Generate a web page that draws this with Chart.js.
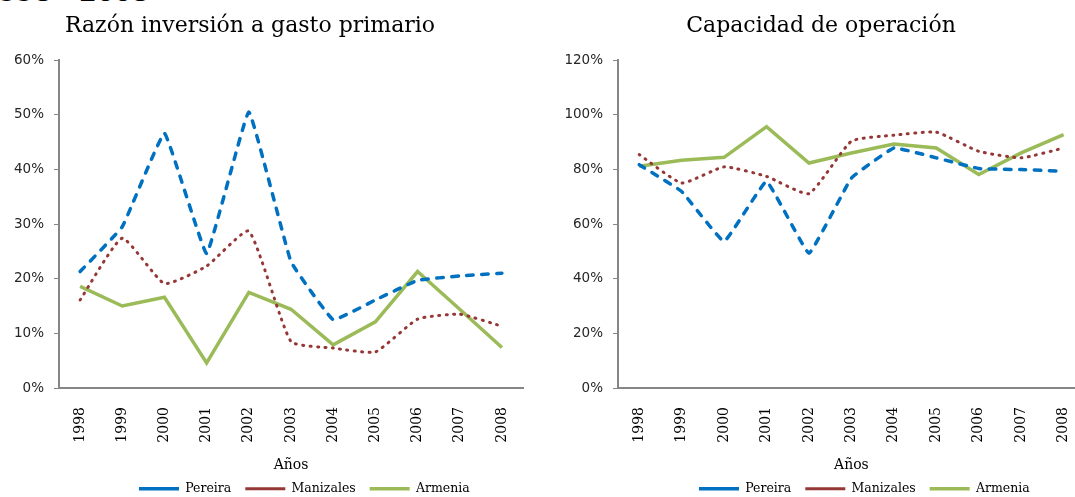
<!DOCTYPE html>
<html>
<head>
<meta charset="utf-8">
<script src="https://cdn.jsdelivr.net/npm/chart.js@4"></script>
<style>
  html, body { margin: 0; padding: 0; background: #fff; overflow: hidden; }
  body { width: 1075px; height: 497px; position: relative; }
  .cap { position: absolute; left: -18px; top: -20px; font: bold 25px "DejaVu Serif"; line-height: 1; white-space: nowrap; color: #000; }
  .box { position: absolute; top: 0; height: 497px; }
</style>
</head>
<body>
<div class="cap">1998 - 2008</div>
<div class="box" style="left:0;width:540px"><canvas id="inv" width="540" height="497"></canvas></div>
<div class="box" style="left:540px;width:560px"><canvas id="cap" width="560" height="497"></canvas></div>
<script>
// Años
const years = ["1998", "1999", "2000", "2001", "2002", "2003", "2004", "2005", "2006", "2007", "2008"];
const seriesNames = ["Pereira", "Manizales", "Armenia"];

// Razón inversión a gasto primario (%)
const pereiraInv   = [21.3, 29.5, 46.6, 24.6, 50.5, 23.1, 12.5, 16.1, 19.7, 20.5, 21.0];
const manizalesInv = [16.1, 27.4, 19.1, 22.3, 28.7, 8.5, 7.3, 6.6, 12.6, 13.5, 11.3];
const armeniaInv   = [18.6, 15.0, 16.6, 4.6, 17.5, 14.4, 7.9, 12.1, 21.3, 14.4, 7.4];

// Capacidad de operación (%)
const pereiraCap   = [81.7, 71.9, 53.6, 75.6, 49.3, 76.8, 87.8, 84.2, 80.3, 79.9, 79.3];
const manizalesCap = [85.4, 75.0, 80.9, 77.4, 71.1, 90.3, 92.5, 93.6, 86.6, 84.2, 87.8];
const armeniaCap   = [81.1, 83.3, 84.4, 95.6, 82.3, 86.0, 89.3, 87.8, 78.1, 86.0, 92.7];

const axisGray = "#868686";
const serif = "'DejaVu Serif', serif";

// mueve título y leyenda a su sitio después del layout
const placePlugin = {
  id: "place",
  afterLayout(chart, args, opts) {
    const t = chart.titleBlock;
    if (t) {
      const dx = opts.titleX - (t.left + t.right) / 2;
      t.left += dx; t.right += dx;
    }
    const l = chart.legend;
    const pad = l.options.labels.padding;
    const x0 = (l.left + pad + l.right - l.lineWidths[0]) / 2;
    const dx = opts.legendX - x0;
    l.left += dx; l.right += dx;
    const dy = opts.legendY - (l.top + pad + 6.5);
    l.top += dy; l.bottom += dy;
  }
};

function makeSets(p, m, a) {
  return [
    { label: seriesNames[0], data: p, borderColor: "#0070C0", backgroundColor: "#0070C0",
      borderWidth: 3.5, borderDash: [6.5, 8.5], borderCapStyle: "round", tension: 0.08 },
    { label: seriesNames[1], data: m, borderColor: "#953735", backgroundColor: "#953735",
      borderWidth: 3, borderDash: [1, 6.4], borderCapStyle: "round", tension: 0.15 },
    { label: seriesNames[2], data: a, borderColor: "#9BBB59", backgroundColor: "#9BBB59",
      borderWidth: 3.5, borderCapStyle: "butt", tension: 0 }
  ];
}

function makeChart(id, title, sets, yMax, yStep, yWidth, padRight, titleX, legendX) {
  return new Chart(document.getElementById(id), {
    type: "line",
    data: { labels: years, datasets: sets },
    plugins: [placePlugin],
    options: {
      responsive: false,
      animation: false,
      layout: { padding: { left: 0, right: padRight, top: 0, bottom: 0 } },
      elements: { point: { radius: 0 } },
      plugins: {
        title: {
          display: true, text: title, color: "#000",
          font: { family: serif, size: 22, weight: "normal" },
          padding: { top: 13, bottom: 20.6 }
        },
        legend: {
          position: "bottom",
          labels: {
            usePointStyle: true, pointStyle: "line", pointStyleWidth: 40,
            padding: 14, color: "#000",
            font: { family: serif, size: 12.5 }
          }
        },
        tooltip: { enabled: false },
        place: { titleX: titleX, legendX: legendX, legendY: 489 }
      },
      scales: {
        x: {
          offset: true,
          grid: { display: false, drawTicks: false },
          border: { color: axisGray, width: 2 },
          ticks: {
            minRotation: 90, maxRotation: 90, autoSkip: false, padding: 19,
            color: "#000", font: { family: serif, size: 14 }
          },
          title: {
            display: true, text: "Años", color: "#000",
            font: { family: serif, size: 14 },
            padding: { top: 0, bottom: -13.4 }
          },
          afterFit(s) { s.height = 109 - s.chart.legend.height; }
        },
        y: {
          min: 0, max: yMax,
          grid: { drawOnChartArea: false, drawTicks: true, tickLength: 5, color: axisGray, lineWidth: 1 },
          border: { color: axisGray, width: 2 },
          ticks: {
            stepSize: yStep, padding: 10, color: "#262626",
            font: { family: "'DejaVu Sans', sans-serif", size: 13.5 },
            callback: v => v + "%"
          },
          afterFit(s) { s.width = yWidth; }
        }
      }
    }
  });
}

makeChart("inv", "Razón inversión a gasto primario", makeSets(pereiraInv, manizalesInv, armeniaInv),
  60, 10, 59, 17, 250, 139);
makeChart("cap", "Capacidad de operación", makeSets(pereiraCap, manizalesCap, armeniaCap),
  120, 20, 78, 13, 281, 159);
</script>
</body>
</html>
